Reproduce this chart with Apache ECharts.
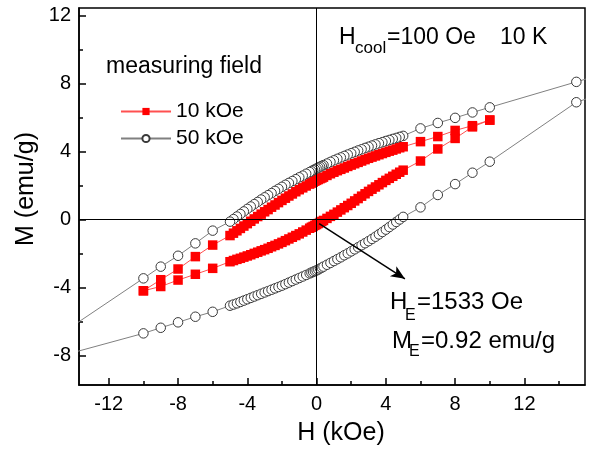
<!DOCTYPE html>
<html>
<head>
<meta charset="utf-8">
<script src="https://cdn.jsdelivr.net/npm/echarts@6/dist/echarts.min.js"></script>
<style>
  html, body { margin: 0; padding: 0; background: #fff; }
  #chart { width: 592px; height: 449px; }
</style>
</head>
<body>
<div id="chart"></div>
<script>
// field sweep in the dense part of both loops (kOe, going down)
var hSweep = [5, 4.8, 4.6, 4.4, 4.2, 4, 3.8, 3.6, 3.4, 3.2, 3, 2.8, 2.6, 2.4, 2.2, 2, 1.8, 1.6, 1.4, 1.2, 1, 0.8, 0.6, 0.4,
  0.3, 0.2, 0.1, 0, -0.1, -0.2, -0.3,
  -0.4, -0.6, -0.8, -1, -1.2, -1.4, -1.6, -1.8, -2, -2.2, -2.4, -2.6, -2.8, -3, -3.2, -3.4, -3.6, -3.8, -4, -4.2, -4.4, -4.6, -4.8, -5]

// 10 kOe loop
var h10High = [10, 9, 8, 7, 6]
var h10Low = [-6, -7, -8, -9, -10]
var m10DownHigh = [5.85, 5.52, 5.24, 4.88, 4.58]
var m10DownSweep = [4.28, 4.22, 4.15, 4.08, 4.02, 3.95, 3.88, 3.81, 3.74, 3.67, 3.60, 3.52, 3.44, 3.36, 3.28, 3.20, 3.12, 3.03, 2.95, 2.87, 2.78, 2.69, 2.59, 2.49,
  2.44, 2.40, 2.35, 2.30, 2.25, 2.19, 2.14,
  2.08, 1.97, 1.86, 1.75, 1.63, 1.50, 1.38, 1.25, 1.12, 0.99, 0.85, 0.72, 0.58, 0.45, 0.31, 0.17, 0.03, -0.11, -0.25, -0.39, -0.53, -0.67, -0.81, -0.95]
var m10DownLow = [-1.51, -2.19, -2.92, -3.55, -4.2]
var m10UpHigh = [5.85, 5.45, 4.77, 4.15, 3.44]
var m10UpSweep = [2.90, 2.78, 2.66, 2.54, 2.42, 2.30, 2.17, 2.04, 1.91, 1.78, 1.65, 1.51, 1.37, 1.23, 1.09, 0.95, 0.82, 0.69, 0.56, 0.43, 0.30, 0.18, 0.06, -0.06,
  -0.12, -0.18, -0.24, -0.30, -0.35, -0.41, -0.46,
  -0.52, -0.63, -0.74, -0.85, -0.95, -1.05, -1.15, -1.25, -1.35, -1.44, -1.53, -1.61, -1.70, -1.78, -1.85, -1.93, -2.00, -2.08, -2.15, -2.22, -2.29, -2.35, -2.42, -2.49]
var m10UpLow = [-2.88, -3.23, -3.57, -3.95, -4.2]

// 50 kOe loop
var h50High = [20, 15, 10, 9, 8, 7, 6]
var h50Low = [-6, -7, -8, -9, -10, -15, -20]
var m50DownHigh = [9.6, 8.1, 6.6, 6.3, 5.98, 5.68, 5.36]
var m50DownSweep = [4.92, 4.86, 4.80, 4.74, 4.68, 4.62, 4.55, 4.49, 4.42, 4.35, 4.28, 4.21, 4.13, 4.06, 3.98, 3.90, 3.82, 3.74, 3.65, 3.57, 3.48, 3.39, 3.29, 3.20,
  3.15, 3.10, 3.05, 3.00, 2.95, 2.90, 2.84,
  2.79, 2.69, 2.58, 2.48, 2.37, 2.26, 2.15, 2.04, 1.92, 1.80, 1.68, 1.55, 1.43, 1.30, 1.17, 1.03, 0.90, 0.76, 0.62, 0.47, 0.32, 0.17, 0.02, -0.13]
var m50DownLow = [-0.66, -1.41, -2.14, -2.78, -3.47, -6.9, -8.6]
var m50UpHigh = [8.6, 6.9, 3.4, 2.75, 2.08, 1.44, 0.71]
var m50UpSweep = [0.15, 0.00, -0.15, -0.30, -0.45, -0.60, -0.74, -0.88, -1.02, -1.15, -1.28, -1.40, -1.52, -1.64, -1.76, -1.88, -2.00, -2.11, -2.23, -2.34, -2.45, -2.56, -2.67, -2.78,
  -2.84, -2.89, -2.95, -3.00, -3.04, -3.09, -3.13,
  -3.18, -3.27, -3.36, -3.45, -3.54, -3.63, -3.72, -3.81, -3.90, -3.98, -4.06, -4.14, -4.22, -4.30, -4.38, -4.46, -4.54, -4.62, -4.70, -4.78, -4.86, -4.94, -5.01, -5.08]
var m50UpLow = [-5.44, -5.73, -6.06, -6.38, -6.71, -8.1, -9.6]

var xMajor = [-12, -8, -4, 0, 4, 8, 12]
var xMinor = [-10, -6, -2, 2, 6, 10, 14]
var yMajor = [-8, -4, 0, 4, 8, 12]
var yMinor = [-6, -2, 2, 6, 10]

// one branch, from high field to low field
function branch(hHigh, mHigh, mSweep, hLow, mLow) {
  var pts = []
  for (var i = 0; i < hHigh.length; i++) pts.push([hHigh[i], mHigh[i]])
  for (var j = 0; j < hSweep.length; j++) pts.push([hSweep[j], mSweep[j]])
  for (var k = 0; k < hLow.length; k++) pts.push([hLow[k], mLow[k]])
  return pts
}

var loop10 = branch(h10High, m10DownHigh, m10DownSweep, h10Low, m10DownLow)
  .concat(branch(h10High, m10UpHigh, m10UpSweep, h10Low, m10UpLow).reverse())
var loop50 = branch(h50High, m50DownHigh, m50DownSweep, h50Low, m50DownLow)
  .concat(branch(h50High, m50UpHigh, m50UpSweep, h50Low, m50UpLow).reverse())

var font = 'Liberation Sans'
var myChart = echarts.init(document.getElementById('chart'))

function txt(x, y, s, size, align, rot) {
  return {
    type: 'text', x: x, y: y, z: 100, rotation: rot || 0,
    style: { text: s, font: size + 'px "' + font + '"', fill: '#000', align: align || 'left', verticalAlign: 'middle' }
  }
}

var xBase = {
  type: 'value', min: -13.72, max: 15.5,
  splitLine: { show: false }
}
var yBase = {
  type: 'value', min: -9.75, max: 12.45,
  splitLine: { show: false }
}
var tickLine = { color: '#000', width: 1.5 }

var option = {
  animation: false,
  backgroundColor: '#fff',
  grid: { left: 79, top: 8, right: 7, bottom: 64, show: true, borderColor: '#000', borderWidth: 1.5 },
  xAxis: [
    Object.assign({}, xBase, {
      axisLine: { show: true, onZero: false, lineStyle: { color: '#000', width: 1.5 } },
      axisTick: { show: true, inside: true, length: 7, customValues: xMajor, lineStyle: tickLine },
      axisLabel: { customValues: xMajor, fontSize: 20, fontFamily: font, color: '#000', margin: 9 }
    }),
    Object.assign({}, xBase, {
      position: 'bottom',
      axisLine: { show: false, onZero: false },
      axisTick: { show: true, inside: true, length: 4, customValues: xMinor, lineStyle: tickLine },
      axisLabel: { show: false }
    })
  ],
  yAxis: [
    Object.assign({}, yBase, {
      axisLine: { show: true, onZero: false, lineStyle: { color: '#000', width: 1.5 } },
      axisTick: { show: true, inside: true, length: 7, customValues: yMajor, lineStyle: tickLine },
      axisLabel: { customValues: yMajor, fontSize: 20, fontFamily: font, color: '#000', margin: 8 }
    }),
    Object.assign({}, yBase, {
      position: 'left',
      axisLine: { show: false, onZero: false },
      axisTick: { show: true, inside: true, length: 4, customValues: yMinor, lineStyle: tickLine },
      axisLabel: { show: false }
    })
  ],
  legend: {
    data: ['10 kOe', '50 kOe'],
    orient: 'vertical',
    left: 115, top: 96,
    itemWidth: 50, itemHeight: 9, itemGap: 6,
    textStyle: { fontSize: 21, fontFamily: font, color: '#000', lineHeight: 21 }
  },
  series: [
    {
      name: 'zero lines', type: 'line', data: [], z: 1, silent: true,
      markLine: {
        silent: true, symbol: 'none', animation: false,
        label: { show: false },
        lineStyle: { color: '#000', width: 1, type: 'solid' },
        data: [{ xAxis: 0 }, { yAxis: 0 }]
      }
    },
    {
      name: '10 kOe', type: 'line', data: loop10, z: 3,
      symbol: 'rect', symbolSize: 9.5,
      itemStyle: { color: '#ff0000' },
      lineStyle: { color: '#ff5050', width: 1 }
    },
    {
      name: '50 kOe', type: 'line', data: loop50, z: 4,
      symbol: 'circle', symbolSize: 9.5,
      itemStyle: { color: '#fff', borderColor: '#3a3a3a', borderWidth: 1 },
      lineStyle: { color: '#808080', width: 1 }
    },
    {
      name: 'arrow', type: 'line', data: [], z: 5, silent: true,
      markLine: {
        silent: true, animation: false,
        symbol: ['none', 'arrow'], symbolSize: [9, 14],
        label: { show: false },
        lineStyle: { color: '#000', width: 1.5, type: 'solid' },
        data: [[{ coord: [0.15, -0.25] }, { coord: [5.1, -3.5] }]]
      }
    }
  ],
  graphic: [
    txt(106, 67, 'measuring field', 23),
    txt(339, 38, 'H', 23),
    txt(355, 48, 'cool', 17),
    txt(387, 38, '=100 Oe', 23),
    txt(500, 38, '10 K', 23),
    txt(390, 302, 'H', 24),
    txt(405, 316, 'E', 16),
    txt(417, 302, '=1533 Oe', 24),
    txt(392, 341, 'M', 24),
    txt(409, 352, 'E', 16),
    txt(421, 341, '=0.92 emu/g', 24),
    txt(341, 433, 'H (kOe)', 25, 'center'),
    txt(26, 189, 'M (emu/g)', 25, 'center', Math.PI / 2)
  ]
}
myChart.setOption(option)
</script>
</body>
</html>
